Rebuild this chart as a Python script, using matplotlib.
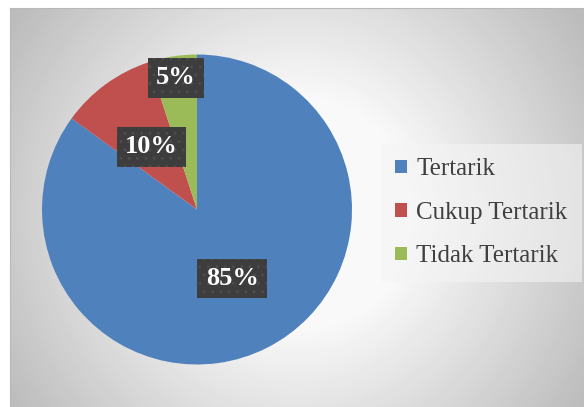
import numpy as np
import matplotlib
matplotlib.use("Agg")
import matplotlib.pyplot as plt

labels = ["Tertarik", "Cukup Tertarik", "Tidak Tertarik"]
values = [85, 10, 5]
colors = ["#4F81BD", "#C0504D", "#9BBB59"]

W, H = 584, 407
fig = plt.figure(figsize=(W / 100, H / 100), dpi=100)
fig.patch.set_facecolor("white")

# background panel with soft radial gradient
bg = fig.add_axes([10 / W, 0, 1 - 10 / W, 399 / H])
yy, xx = np.mgrid[0:399, 0:574]
d = np.hypot(xx - 287, yy - 205)
v = np.clip(250 - 48 * (d - 110) / 180, 188, 250) / 255.0
bg.imshow(v, cmap="gray", vmin=0, vmax=1, aspect="auto", interpolation="bilinear")
bg.set_xticks([])
bg.set_yticks([])
for s in bg.spines.values():
    s.set_visible(False)
bg.spines["top"].set_visible(True)
bg.spines["top"].set_color("#b8b8b8")
bg.spines["left"].set_visible(True)
bg.spines["left"].set_color("#b8b8b8")

# pie
cx, cy, r = 197, 209.5, 155
ax = fig.add_axes([(cx - r) / W, (H - cy - r) / H, 2 * r / W, 2 * r / H])
wedges, texts, autotexts = ax.pie(values, colors=colors, startangle=90, counterclock=False,
                                  autopct="%d%%", pctdistance=0.5,
                                  wedgeprops=dict(linewidth=0),
                                  textprops=dict(color="white", fontsize=19, fontweight="bold",
                                                 family="Liberation Serif"))
ax.set_xlim(-1, 1)
ax.set_ylim(-1, 1)
ax.set_aspect("equal")

# small slice label sits further out
w = wedges[2]
ang = np.deg2rad((w.theta1 + w.theta2) / 2)
autotexts[2].set_position((0.86 * np.cos(ang), 0.86 * np.sin(ang)))

for t in autotexts:
    t.set_bbox(dict(boxstyle="square,pad=0.32", fc="#3d3d3d", ec="#4c4c4c", lw=0, hatch=".."))

leg = fig.legend(wedges, labels, loc="upper left", bbox_to_anchor=(381 / W, 1 - 144 / H),
                 frameon=True, fancybox=False,
                 prop=dict(family="Liberation Serif", size=18),
                 handlelength=0.45, handleheight=0.45, handletextpad=0.4,
                 labelspacing=0.86, borderpad=0.57, borderaxespad=0)
leg.get_frame().set_facecolor("#f4f4f4")
leg.get_frame().set_alpha(0.6)
leg.get_frame().set_linewidth(0)
for t in leg.get_texts():
    t.set_color("#404040")

fig.savefig("out.png", dpi=100)
